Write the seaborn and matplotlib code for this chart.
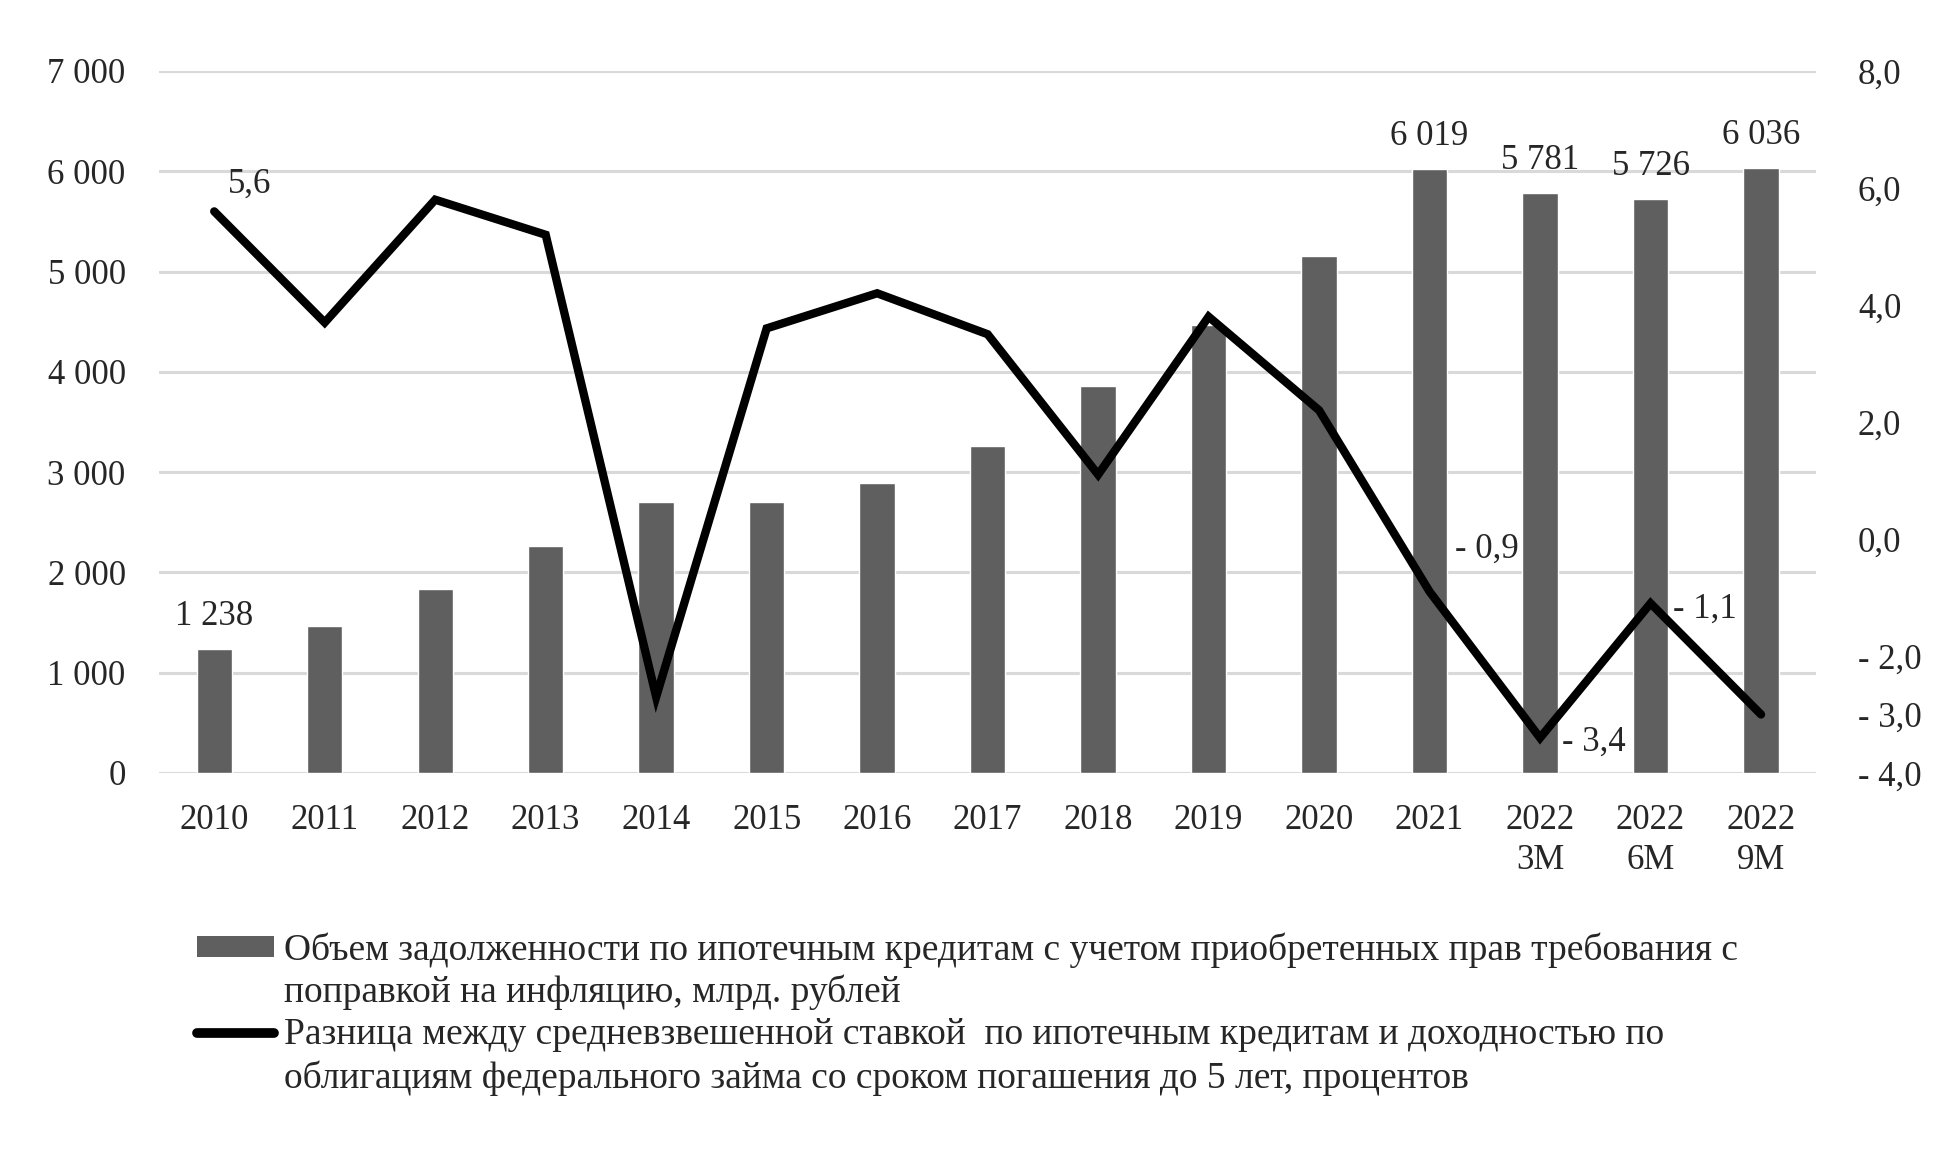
import numpy as np
import pandas as pd
import matplotlib
matplotlib.use("Agg")
import matplotlib.pyplot as plt
from matplotlib.patches import Patch
from matplotlib.lines import Line2D
from matplotlib.ticker import FixedLocator, FuncFormatter
import seaborn as sns

# ---- data ----
categories = ["2010", "2011", "2012", "2013", "2014", "2015", "2016", "2017",
              "2018", "2019", "2020", "2021", "2022\n3M", "2022\n6M", "2022\n9M"]
debt = [1238, 1462, 1833, 2267, 2704, 2704, 2890, 3262, 3858, 4466, 5160,
        6019, 5781, 5726, 6036]
spread = [5.6, 3.7, 5.8, 5.2, -2.7, 3.6, 4.2, 3.5, 1.1, 3.8, 2.2,
          -0.9, -3.4, -1.1, -3.0]
left_ticks = [0, 1000, 2000, 3000, 4000, 5000, 6000, 7000]
right_ticks = [-4, -3, -2, 0, 2, 4, 6, 8]
bar_label_idx = [0, 11, 12, 13, 14]
line_label_idx = [0, 11, 12, 13]
legend_bar = ["Объем задолженности по ипотечным кредитам с учетом приобретенных прав требования с",
              "поправкой на инфляцию, млрд. рублей"]
legend_line = ["Разница между средневзвешенной ставкой  по ипотечным кредитам и доходностью по",
               "облигациям федерального займа со сроком погашения до 5 лет, процентов"]

BAR_C = "#5f5f5f"
GRID_C = "#d9d9d9"
FS = 25
LFS = 27

sns.set_style("white")
plt.rcParams["font.family"] = ["Liberation Serif", "DejaVu Serif"]


def fmt_thousands(v, pos=None):
    return f"{int(round(v)):,}".replace(",", " ")


def fmt_dec(v, pos=None):
    s = f"{abs(v):.1f}".replace(".", ",")
    return ("- " + s) if v < -1e-9 else s


df = pd.DataFrame({"cat": categories, "debt": debt, "spread": spread,
                   "pos": np.arange(len(categories))})

fig = plt.figure(figsize=(19.53, 11.58), dpi=100)
ax = fig.add_axes([0.0814, 0.3325, 0.8486, 0.6062])

sns.barplot(data=df, x="cat", y="debt", color=BAR_C, saturation=1,
            width=0.32, ax=ax, zorder=2)
ax.set_xlim(-0.5, len(categories) - 0.5)
ax.set_ylim(0, 7000)
ax.yaxis.set_major_locator(FixedLocator(left_ticks))
ax.yaxis.set_major_formatter(FuncFormatter(fmt_thousands))
ax.grid(axis="y", color=GRID_C, lw=2.2, zorder=0)
ax.set_axisbelow(True)
ax.set_xlabel("")
ax.set_ylabel("")
for s in ax.spines.values():
    s.set_visible(False)
ax.tick_params(axis="y", length=0, pad=24, labelsize=FS)
ax.tick_params(axis="x", length=0, pad=22, labelsize=FS)
for t in ax.get_xticklabels():
    t.set_linespacing(1.3)

ax2 = ax.twinx()
sns.lineplot(data=df, x="pos", y="spread", color="black", lw=6, ax=ax2,
             solid_joinstyle="miter")
ax2.set_ylim(-4, 8)
ax2.yaxis.set_major_locator(FixedLocator(right_ticks))
ax2.yaxis.set_major_formatter(FuncFormatter(fmt_dec))
ax2.tick_params(axis="y", length=0, pad=30, labelsize=FS)
ax2.set_xlabel("")
ax2.set_ylabel("")
for s in ax2.spines.values():
    s.set_visible(False)
ax2.grid(False)
ax2.set_xlim(-0.5, len(categories) - 0.5)

# bar labels
for i in bar_label_idx:
    ax.annotate(fmt_thousands(debt[i]), (i, debt[i]), xytext=(0, 24),
                textcoords="offset pixels", ha="center", va="baseline",
                fontsize=FS)

# line labels
line_offsets = {0: (35, 19, "center"), 11: (25, 34, "left"),
                12: (22, -13, "left"), 13: (22, -14, "left")}
for i in line_label_idx:
    dx, dy, ha = line_offsets[i]
    ax2.annotate(fmt_dec(spread[i]), (i, spread[i]), xytext=(dx, dy),
                 textcoords="offset pixels", ha=ha, va="baseline",
                 fontsize=FS)

blank = Patch(facecolor="none", edgecolor="none")
handles = [Patch(facecolor=BAR_C, edgecolor="none"), blank,
           Line2D([0], [0], color="black", lw=7, solid_capstyle="round"), blank]
labels = legend_bar + legend_line
fig.legend(handles, labels, loc="upper left",
           bbox_to_anchor=(197 / 1953, 1 - 932 / 1158), frameon=False,
           fontsize=LFS, handlelength=2.05, handleheight=0.5,
           handletextpad=0.27, labelspacing=0.2, borderpad=0,
           borderaxespad=0)

fig.savefig("out.png", dpi=100)
